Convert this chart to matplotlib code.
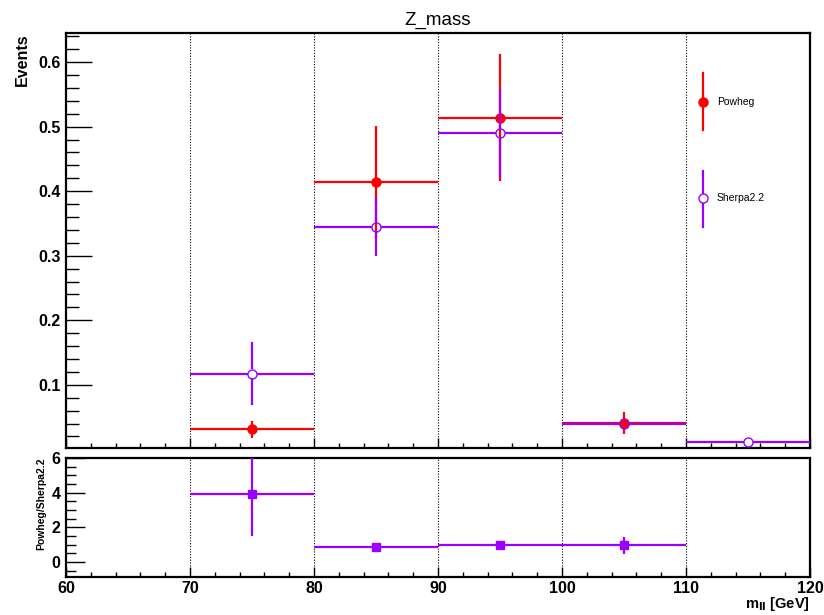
import numpy as np
import matplotlib.pyplot as plt
from matplotlib.ticker import MultipleLocator, FormatStrFormatter

plt.rcParams['font.family'] = ['Liberation Sans', 'DejaVu Sans']

# bin centres of m_ll [GeV]
bins_powheg = [75, 85, 95, 105]
powheg = [0.031, 0.414, 0.514, 0.041]
powheg_err = [0.013, 0.087, 0.098, 0.017]

bins_sherpa = [75, 85, 95, 105, 115]
sherpa = [0.117, 0.345, 0.490, 0.040, 0.011]
sherpa_err = [0.049, 0.045, 0.068, 0.005, 0.003]

bins_ratio = [75, 85, 95, 105]
ratio = [3.95, 0.87, 0.95, 0.95]
ratio_err = [2.48, 0.12, 0.14, 0.50]

half_bin = 5
red = '#ff0000'
purple = '#9900ff'


def style_axis(ax, ymaj, ymin_, ylen):
    for s in ax.spines.values():
        s.set_linewidth(1.6)
    ax.xaxis.set_major_locator(MultipleLocator(10))
    ax.xaxis.set_minor_locator(MultipleLocator(2))
    ax.yaxis.set_major_locator(MultipleLocator(ymaj))
    ax.yaxis.set_minor_locator(MultipleLocator(ymin_))
    ax.tick_params(which='both', direction='in', top=False, right=False, width=1.0)
    ax.tick_params(axis='y', which='major', length=ylen)
    ax.tick_params(axis='y', which='minor', length=ylen / 2)
    ax.tick_params(axis='x', which='major', length=7)
    ax.tick_params(axis='x', which='minor', length=3.5)
    for x in range(70, 120, 10):
        ax.axvline(x, color='black', linestyle=(0, (1, 1.5)), linewidth=0.8, zorder=0)


def root_errors(ax, x, y, yerr, color, gap_px, z):
    # ROOT style error bars: the lines stop at the marker edge
    bbox = ax.get_window_extent()
    x0, x1 = ax.get_xlim()
    y0, y1 = ax.get_ylim()
    gx = gap_px * (x1 - x0) / bbox.width
    gy = gap_px * (y1 - y0) / bbox.height
    x = np.asarray(x, float)
    y = np.asarray(y, float)
    e = np.asarray(yerr, float)
    ax.hlines(y, x - half_bin, x - gx, color=color, lw=1.6, zorder=z)
    ax.hlines(y, x + gx, x + half_bin, color=color, lw=1.6, zorder=z)
    ax.vlines(x, y + gy, np.maximum(y + e, y + gy), color=color, lw=1.6, zorder=z)
    ax.vlines(x, np.minimum(y - e, y - gy), y - gy, color=color, lw=1.6, zorder=z)


fig = plt.figure(figsize=(8.24, 6.15), dpi=100)
ax = fig.add_axes([0.0801, 0.2715, 0.903, 0.6748])
rax = fig.add_axes([0.0801, 0.0618, 0.903, 0.1935], sharex=ax)

ax.set_xlim(60, 120)
ax.set_ylim(0.002, 0.645)

root_errors(ax, bins_powheg, powheg, powheg_err, red, 3.0, 3)
ax.plot(bins_powheg, powheg, 'o', color=red, ms=6.5, zorder=3)
root_errors(ax, bins_sherpa, sherpa, sherpa_err, purple, 4.5, 4)
ax.plot(bins_sherpa, sherpa, 'o', mfc='none', mec=purple, mew=1.0, ms=6.5, zorder=4)

style_axis(ax, 0.1, 0.02, 19)
ax.yaxis.set_major_formatter(FormatStrFormatter('%.1f'))
plt.setp(ax.get_xticklabels(), visible=False)
ax.tick_params(axis='y', labelsize=11.5, pad=4)
for lbl in ax.get_yticklabels():
    lbl.set_fontweight('bold')
ax.set_title('Z_mass', fontsize=13.5, pad=6)
ax.set_ylabel('Events', fontsize=11.5, fontweight='bold', loc='top', labelpad=6)

# legend drawn in ROOT style
ax.plot([0.856, 0.856], [0.766, 0.904], color=red, lw=1.6, transform=ax.transAxes)
ax.plot([0.856], [0.834], 'o', color=red, ms=6.5, transform=ax.transAxes)
ax.text(0.875, 0.834, 'Powheg', fontsize=7.5, va='center', transform=ax.transAxes)
ax.plot([0.856, 0.856], [0.533, 0.667], color=purple, lw=1.6, transform=ax.transAxes)
ax.plot([0.856], [0.602], 'o', mfc='white', mec=purple, mew=1.0, ms=6.5, transform=ax.transAxes)
ax.text(0.875, 0.602, 'Sherpa2.2', fontsize=7.5, va='center', transform=ax.transAxes)

rax.errorbar(bins_ratio, ratio, xerr=half_bin, yerr=ratio_err, fmt='s', color=purple,
             ms=6, elinewidth=1.6, capsize=0, zorder=3)
rax.set_ylim(-0.87, 6.0)
style_axis(rax, 2, 0.5, 14)
rax.tick_params(axis='both', labelsize=11.5)
rax.tick_params(axis='y', pad=4)
rax.tick_params(axis='x', pad=3)
for lbl in rax.get_xticklabels() + rax.get_yticklabels():
    lbl.set_fontweight('bold')
rax.set_ylabel('Powheg/Sherpa2.2', fontsize=7.5, fontweight='bold', loc='top', labelpad=4)
rax.set_xlabel(r'm$_{\mathbf{ll}}$ [GeV]', fontsize=10.5, fontweight='bold', loc='right', labelpad=-1)

fig.savefig('out.png', dpi=100)
